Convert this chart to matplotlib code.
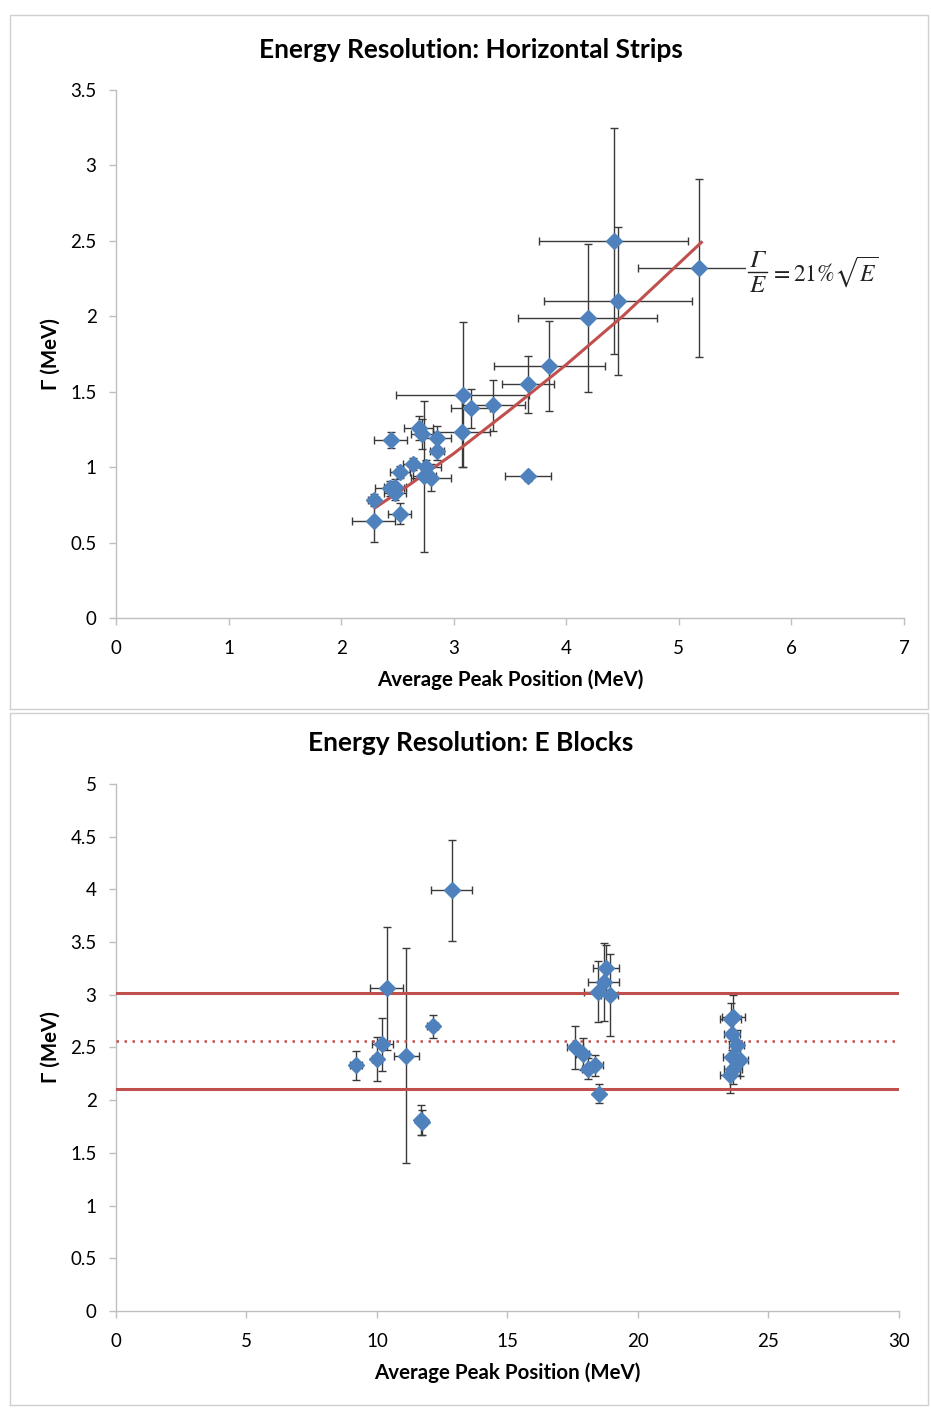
import matplotlib
matplotlib.use("Agg")
import matplotlib.pyplot as plt
from matplotlib.lines import Line2D
from matplotlib.patches import Rectangle

plt.rcParams['font.family'] = ['Lato', 'DejaVu Sans']
plt.rcParams['mathtext.fontset'] = 'stix'

# ---------------- Top chart: Horizontal strips ----------------
strip_E = [4.42, 4.46, 5.18, 4.19, 3.85, 3.66, 3.08, 3.07, 3.15, 3.35, 2.44, 2.69,
           2.72, 2.85, 2.85, 2.64, 2.52, 2.75, 2.74, 2.80, 2.43, 2.48, 2.48, 2.29,
           2.52, 2.29, 3.66]
strip_G = [2.50, 2.10, 2.32, 1.99, 1.67, 1.55, 1.48, 1.23, 1.39, 1.41, 1.18, 1.26,
           1.22, 1.19, 1.11, 1.02, 0.97, 1.00, 0.94, 0.93, 0.86, 0.87, 0.83, 0.78,
           0.69, 0.64, 0.94]
strip_Eerr = [0.66, 0.66, 0.54, 0.62, 0.49, 0.23, 0.59, 0.25, 0.17, 0.28, 0.145, 0.13,
              0.10, 0.13, 0.06, 0.09, 0.09, 0.14, 0.10, 0.18, 0.13, 0.10, 0.10, 0.05,
              0.10, 0.19, 0.20]
strip_Gerr = [0.75, 0.49, 0.59, 0.49, 0.30, 0.19, 0.48, 0.23, 0.13, 0.17, 0.05, 0.08,
              0.10, 0.08, 0.06, 0.04, 0.04, 0.05, 0.50, 0.09, 0.05, 0.05, 0.05, 0.04,
              0.07, 0.135, 0.03]
# fit curve Gamma/E = 21% sqrt(E)
fit_E = [2.30, 2.60, 3.00, 3.50, 4.00, 4.50, 5.20]
fit_G = [0.73, 0.88, 1.09, 1.38, 1.68, 2.00, 2.49]

# ---------------- Bottom chart: E blocks ----------------
block_E = [12.86, 10.37, 12.13, 10.21, 10.01, 9.20, 11.13, 11.67, 11.72,
           18.77, 18.69, 18.45, 18.92, 17.59, 17.88, 18.10, 18.35, 18.52,
           23.65, 23.55, 23.61, 23.78, 23.59, 23.91, 23.65, 23.52]
block_G = [3.99, 3.06, 2.70, 2.53, 2.39, 2.33, 2.42, 1.81, 1.79,
           3.25, 3.12, 3.03, 3.00, 2.50, 2.44, 2.30, 2.33, 2.06,
           2.79, 2.77, 2.63, 2.52, 2.41, 2.38, 2.30, 2.24]
block_Eerr = [0.78, 0.63, 0.20, 0.41, 0.20, 0.23, 0.47, 0.15, 0.15,
              0.51, 0.60, 0.50, 0.33, 0.32, 0.25, 0.25, 0.30, 0.12,
              0.45, 0.40, 0.30, 0.30, 0.35, 0.30, 0.35, 0.37]
block_Gerr = [0.48, 0.58, 0.11, 0.25, 0.21, 0.14, 1.02, 0.14, 0.12,
              0.22, 0.37, 0.29, 0.39, 0.20, 0.15, 0.10, 0.10, 0.09,
              0.21, 0.15, 0.15, 0.15, 0.15, 0.15, 0.15, 0.17]
block_mean = 2.56
block_band = [2.105, 3.015]

marker_color = '#4F81BD'
fit_color = '#C0504D'
err_color = '#3A3A3A'
axis_color = '#BFBFBF'
tick_fs = 13.5

W, H = 931, 1409
fig = plt.figure(figsize=(W / 100, H / 100), dpi=100)

# chart frames
for (y0, y1) in [(0.497, 0.989), (0.003, 0.494)]:
    fig.add_artist(Line2D([0.011, 0.011, 0.997, 0.997, 0.011],
                          [y0, y1, y1, y0, y0], transform=fig.transFigure,
                          color='#D0D0D0', lw=1.0))


def style_axes(ax):
    for s in ['top', 'right']:
        ax.spines[s].set_visible(False)
    for s in ['left', 'bottom']:
        ax.spines[s].set_color(axis_color)
        ax.spines[s].set_linewidth(1.0)
    ax.tick_params(axis='both', direction='out', length=5, width=1.0,
                   color=axis_color, labelsize=tick_fs, labelcolor='#000000')
    ax.tick_params(axis='x', pad=11)
    ax.tick_params(axis='y', pad=9)


# ---- top ----
ax1 = fig.add_axes([0.1246, 0.5614, 0.8464, 0.3747])
ax1.errorbar(strip_E, strip_G, xerr=strip_Eerr, yerr=strip_Gerr, fmt='none',
             ecolor=err_color, elinewidth=1.0, capsize=3, capthick=1.0, zorder=2)
ax1.plot(fit_E, fit_G, color=fit_color, lw=2.2, zorder=3)
ax1.plot(strip_E, strip_G, linestyle='none', marker='D', markersize=8.5,
         color=marker_color, markeredgecolor=marker_color, zorder=4)
ax1.set_xlim(0, 7)
ax1.set_ylim(0, 3.5)
ax1.set_xticks(range(0, 8))
ax1.set_yticks([0, 0.5, 1, 1.5, 2, 2.5, 3, 3.5])
ax1.set_yticklabels(['0', '0.5', '1', '1.5', '2', '2.5', '3', '3.5'])
style_axes(ax1)
ax1.set_xlabel('Average Peak Position (MeV)', fontsize=14.8, fontweight='bold', labelpad=9)
ax1.set_ylabel('Γ (MeV)', fontsize=14.8, fontweight='bold', labelpad=7)
fig.text(0.506, 0.9645, 'Energy Resolution: Horizontal Strips', ha='center', va='center',
         fontsize=19, fontweight='bold')

# formula  Γ/E = 21% sqrt(E)  (text box with white fill)
fcol = '#222222'
fig.add_artist(Rectangle((746 / W, 1 - 300 / H), 126 / W, 54 / H,
                         transform=fig.transFigure, facecolor='white',
                         edgecolor='none', zorder=5))
fig.text(757 / W, 1 - 261 / H, 'Γ', ha='center', va='center', fontsize=18,
         family=['STIXGeneral', 'DejaVu Serif'], style='italic', color=fcol, zorder=6)
fig.add_artist(Line2D([748 / W, 767 / W], [1 - 272 / H, 1 - 272 / H],
                      transform=fig.transFigure, color=fcol, lw=1.0, zorder=6))
fig.text(757 / W, 1 - 286 / H, 'E', ha='center', va='center', fontsize=18,
         family=['STIXGeneral', 'DejaVu Serif'], style='italic', color=fcol, zorder=6)
fig.text(770 / W, 1 - 272 / H, r'$=21\%\sqrt{E}$', ha='left', va='center',
         fontsize=17, color=fcol, zorder=6)

# ---- bottom ----
ax2 = fig.add_axes([0.1246, 0.0696, 0.8410, 0.3740])
ax2.errorbar(block_E, block_G, xerr=block_Eerr, yerr=block_Gerr, fmt='none',
             ecolor=err_color, elinewidth=1.0, capsize=3, capthick=1.0, zorder=2)
ax2.axhline(block_band[1], color=fit_color, lw=2.2, zorder=3)
ax2.axhline(block_band[0], color=fit_color, lw=2.2, zorder=3)
ax2.axhline(block_mean, color=fit_color, lw=1.8, linestyle=(0, (1, 2.2)), zorder=3)
ax2.plot(block_E, block_G, linestyle='none', marker='D', markersize=8.5,
         color=marker_color, markeredgecolor=marker_color, zorder=4)
ax2.set_xlim(0, 30)
ax2.set_ylim(0, 5)
ax2.set_xticks([0, 5, 10, 15, 20, 25, 30])
ax2.set_yticks([0, 0.5, 1, 1.5, 2, 2.5, 3, 3.5, 4, 4.5, 5])
ax2.set_yticklabels(['0', '0.5', '1', '1.5', '2', '2.5', '3', '3.5', '4', '4.5', '5'])
style_axes(ax2)
ax2.set_xlabel('Average Peak Position (MeV)', fontsize=14.8, fontweight='bold', labelpad=9)
ax2.set_ylabel('Γ (MeV)', fontsize=14.8, fontweight='bold', labelpad=7)
fig.text(0.506, 0.4727, 'Energy Resolution: E Blocks', ha='center', va='center',
         fontsize=19, fontweight='bold')

fig.savefig('out.png', dpi=100)
